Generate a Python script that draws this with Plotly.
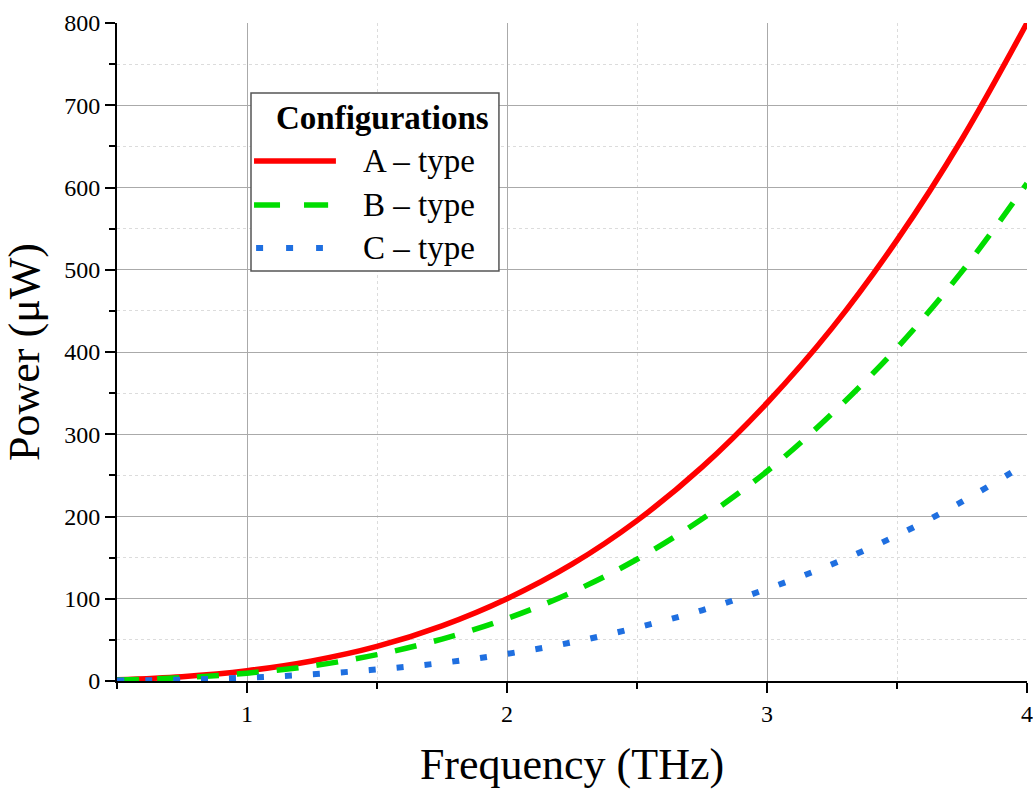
import plotly.graph_objects as go

# ---- data ----
freq = [0.5, 0.75, 1.0, 1.25, 1.5, 1.75, 2.0, 2.25, 2.5, 2.75, 3.0, 3.25, 3.5, 3.75, 4.0]
power_a = [1.6, 5.3, 12.5, 24.4, 42, 67, 100, 142, 195, 260, 338, 429, 536, 659, 800]
power_b = [1.2, 4.0, 9.5, 18.4, 32, 51, 76, 108, 148, 197, 255, 325, 405, 498, 605]
power_c = [0.5, 1.7, 4.1, 8.1, 14, 22, 33, 47, 65, 86, 112, 142, 177, 218, 265]
series_names = ["A \u2013 type", "B \u2013 type", "C \u2013 type"]
legend_title = "Configurations"
x_title = "Frequency (THz)"
y_title = "Power (\u03bcW)"

RED = "#ff0000"
GREEN = "#00dd00"
BLUE = "#1f6fe0"
FONT = "Liberation Serif"

fig = go.Figure()
fig.add_trace(go.Scatter(x=freq, y=power_a, mode="lines", name=series_names[0],
                         line=dict(color=RED, width=5.5, shape="spline"), showlegend=False))
fig.add_trace(go.Scatter(x=freq, y=power_b, mode="lines", name=series_names[1],
                         line=dict(color=GREEN, width=5.5, shape="spline", dash="22px,18px"), showlegend=False))
fig.add_trace(go.Scatter(x=freq, y=power_c, mode="lines", name=series_names[2],
                         line=dict(color=BLUE, width=6, shape="spline", dash="7px,21px"), showlegend=False))

xr = [0.5, 4.0]
yr = [0, 800]

common = dict(showline=True, linecolor="black", linewidth=2, zeroline=False,
              tickcolor="black", tickwidth=2, automargin=False)

fig.update_layout(
    width=1033, height=789,
    margin=dict(l=117, r=6, t=23, b=108),
    paper_bgcolor="white", plot_bgcolor="white",
    font=dict(family=FONT, color="black"),
    xaxis=dict(range=xr, tick0=0, dtick=1, ticks="outside", ticklen=10,
               tickfont=dict(size=24, family=FONT), showgrid=True, gridcolor="#aaaaaa", gridwidth=1,
               minor=dict(dtick=0.5, ticks="outside", ticklen=6, tickcolor="black", tickwidth=2,
                          showgrid=True, gridcolor="#dcdcdc", griddash="3px,3px", gridwidth=1),
               title=dict(text=x_title, font=dict(size=44, family=FONT), standoff=29),
               **common),
    yaxis=dict(range=yr, tick0=0, dtick=100, ticks="outside", ticklen=10,
               tickfont=dict(size=24, family=FONT), showgrid=True, gridcolor="#aaaaaa", gridwidth=1,
               minor=dict(dtick=50, ticks="outside", ticklen=6, tickcolor="black", tickwidth=2,
                          showgrid=True, gridcolor="#dcdcdc", griddash="3px,3px", gridwidth=1),
               title=dict(text=y_title, font=dict(size=44, family=FONT), standoff=20),
               **common),
    xaxis2=dict(range=xr, overlaying="x", side="top", anchor="y", tick0=0, dtick=1,
                ticks="inside", ticklen=10, showticklabels=False, showgrid=False,
                minor=dict(dtick=0.5, ticks="inside", ticklen=6, tickcolor="black", tickwidth=2),
                **common),
    yaxis2=dict(range=yr, overlaying="y", side="right", anchor="x", tick0=0, dtick=100,
                ticks="inside", ticklen=10, showticklabels=False, showgrid=False,
                minor=dict(dtick=50, ticks="inside", ticklen=6, tickcolor="black", tickwidth=2),
                **common),
)

# ---- manual legend box (data-coordinate placement) ----
fig.add_shape(type="rect", xref="x", yref="y", x0=1.0154, x1=1.969, y0=498.5, y1=714.9,
              line=dict(color="#555555", width=1.5), fillcolor="white", layer="above")
fig.add_annotation(xref="x", yref="y", x=1.94, y=684.5, text="<b>%s</b>" % legend_title,
                   showarrow=False, xanchor="right", yanchor="middle",
                   font=dict(size=33, family=FONT, color="black"))
row_y = [632.2, 578.7, 526.4]
row_style = [dict(color=RED, width=5.5), dict(color=GREEN, width=5.5, dash="26px,24px"),
             dict(color=BLUE, width=6, dash="7px,23px")]
row_x = [(1.027, 1.342), (1.027, 1.312), (1.035, 1.292)]
for name, yy, st, (a, b) in zip(series_names, row_y, row_style, row_x):
    fig.add_shape(type="line", xref="x", yref="y", x0=a, x1=b, y0=yy, y1=yy, line=st, layer="above")
    fig.add_annotation(xref="x", yref="y", x=1.438, y=yy, text=name, showarrow=False,
                       xanchor="left", yanchor="middle",
                       font=dict(size=33, family=FONT, color="black"))

fig.write_html("out.html", config={"displayModeBar": False},
               post_script="document.body.style.margin='0';")
